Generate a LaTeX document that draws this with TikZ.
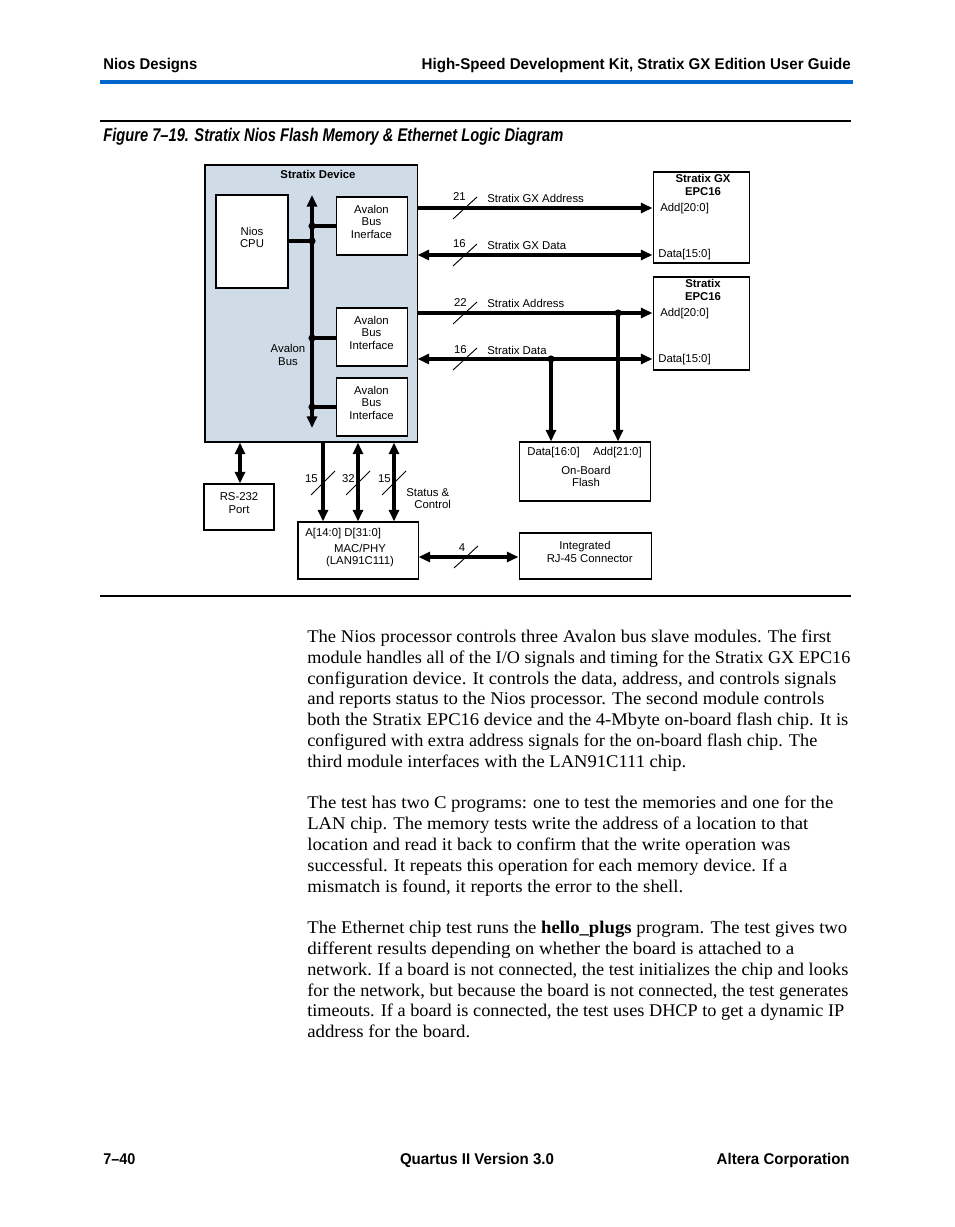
\documentclass[tikz,border=0pt]{standalone}
\usepackage{fontspec}
\setmainfont{Liberation Serif}
\setsansfont{Liberation Sans}
\usetikzlibrary{arrows.meta,fit}
\newdimen\unitpx \unitpx=0.642857pt
\newcommand\fitw[2]{\resizebox{#1\unitpx}{\height}{#2}}
\definecolor{sdfill}{RGB}{207,220,231}
\definecolor{hdrblue}{RGB}{0,102,204}
\tikzset{
  box/.style={draw, line width=0.65pt, fill=white, inner sep=0pt, font=\sffamily\fontsize{7.3}{8.2}\selectfont, align=center},
  sdbox/.style={draw, line width=0.65pt, fill=sdfill, inner sep=0pt},
  lbl/.style={font=\sffamily\fontsize{7.3}{8.2}\selectfont, inner sep=0pt},
  bus/.style={line width=2.3pt},
  tick/.style={line width=0.6pt},
  hdr/.style={font=\sffamily\bfseries\fontsize{10}{11}\selectfont, inner sep=0pt, anchor=base west},
  bodyline/.style={font=\fontsize{11.5}{13}\selectfont, inner sep=0pt, anchor=base west},
  dot/.style={fill=black}
}
\begin{document}
\begin{tikzpicture}[x=0.642857pt, y=-0.642857pt, >={Triangle[length=7.5pt,width=6.4pt]}]
\useasboundingbox (0,0) rectangle (954,1227);
\fill[white] (0,0) rectangle (954,1227);

% ---------- header ----------
\node[hdr] (h1) at (103,70) {\fitw{94}{Nios Designs}};
\node[hdr, anchor=base east] (h2) at (851,70) {\fitw{429}{High-Speed Development Kit, Stratix GX Edition User Guide}};
\fill[hdrblue] (100,80.5) rectangle (853,84.5);
\draw[line width=0.7pt] (100,121) -- (851,121);
\node[inner sep=0pt, anchor=base west, font=\sffamily\bfseries\itshape\fontsize{11.8}{13}\selectfont] (cap) at (103,142)
  {\fitw{460}{Figure 7--19. Stratix Nios Flash Memory \& Ethernet Logic Diagram}};

% ---------- Stratix device ----------
\node[sdbox, fit={(205,165)(417,442)}] (sd) {};
\node[lbl, font=\sffamily\bfseries\fontsize{7.3}{8.2}\selectfont] (sdl) at (318,174) {Stratix Device};
\node[box, fit={(216,195)(288,288)}] (cpu) {Nios\\CPU};
\node[box, fit={(336,197)(407,255)}] (abi1) {Avalon\\Bus\\Inerface};
\node[box, fit={(336,308)(407,366)}] (abi2) {Avalon\\Bus\\Interface};
\node[box, fit={(336,378)(407,436)}] (abi3) {Avalon\\Bus\\Interface};
\node[lbl, align=center] (avb) at (288,355) {Avalon\\Bus};

\coordinate (bt) at (312,195);
\coordinate (bb) at (312,428);
\draw[bus,<->] (bt) -- (bb);
\coordinate (d1) at (312,226);
\coordinate (d0) at (312,241);
\coordinate (d2) at (312,338);
\coordinate (d3) at (312,407);
\draw[bus] (d1) -- (d1 -| abi1.west);
\draw[bus] (cpu.east |- d0) -- (d0);
\draw[bus] (d2) -- (d2 -| abi2.west);
\draw[bus] (d3) -- (d3 -| abi3.west);
\foreach \d in {d0,d1,d2,d3} \fill[dot] (\d) circle (2.3pt);

% ---------- EPC16 devices ----------
\node[box, fit={(653,172)(749,263)}] (gx) {};
\node[lbl, align=center, font=\sffamily\bfseries\fontsize{7.3}{7.8}\selectfont] (gxt) at (703,185) {Stratix GX\\EPC16};
\node[lbl, anchor=base west] (gxa) at (660,211.5) {Add[20:0]};
\node[lbl, anchor=base west] (gxd) at (658,257.5) {Data[15:0]};

\node[box, fit={(653,277)(749,370)}] (ep) {};
\node[lbl, align=center, font=\sffamily\bfseries\fontsize{7.3}{7.8}\selectfont] (ept) at (703,290) {Stratix\\EPC16};
\node[lbl, anchor=base west] (epa) at (660,316.5) {Add[20:0]};
\node[lbl, anchor=base west] (epd) at (658,362.5) {Data[15:0]};

% GX address / data
\coordinate (yA) at (0,208);
\coordinate (yB) at (0,255);
\coordinate (yC) at (0,313);
\coordinate (yD) at (0,359);
\draw[bus,->] (sd.east |- yA) -- (gx.west |- yA);
\draw[bus,<->] (sd.east |- yB) -- (gx.west |- yB);
\draw[tick] (465,208) ++(-12,11) -- ++(24,-22);
\draw[tick] (465,255) ++(-12,11) -- ++(24,-22);
\node[lbl, anchor=base east] (n21) at (466,201) {21};
\node[lbl, anchor=base west] (lgxa) at (487,203) {Stratix GX Address};
\node[lbl, anchor=base east] (n16a) at (466,248) {16};
\node[lbl, anchor=base west] (lgxd) at (487,250) {Stratix GX Data};

% Stratix address / data
\draw[bus,->] (sd.east |- yC) -- (ep.west |- yC);
\draw[bus,<->] (sd.east |- yD) -- (ep.west |- yD);
\draw[tick] (465,313) ++(-12,11) -- ++(24,-22);
\draw[tick] (465,359) ++(-12,11) -- ++(24,-22);
\node[lbl, anchor=base east] (n22) at (467,306) {22};
\node[lbl, anchor=base west] (lepa) at (487,308) {Stratix Address};
\node[lbl, anchor=base east] (n16b) at (467,353) {16};
\node[lbl, anchor=base west] (lepd) at (487,354) {Stratix Data};

% ---------- flash ----------
\node[box, fit={(519,442)(650,501)}] (fl) {};
\node[lbl, anchor=base west] (fld) at (527,455.5) {Data[16:0]};
\node[lbl, anchor=base east] (fla) at (642,455.5) {Add[21:0]};
\node[lbl, align=center] (flt) at (586,476.5) {On-Board\\Flash};
\coordinate (fa) at (618,313);
\coordinate (fd) at (551,359);
\draw[bus,->] (fa) -- (fa |- fl.north);
\draw[bus,->] (fd) -- (fd |- fl.north);
\fill[dot] (fa) circle (2.3pt);
\fill[dot] (fd) circle (2.3pt);

% ---------- RS-232 ----------
\node[box, fit={(204,484)(274,530)}] (rs) {RS-232\\Port};
\coordinate (xr) at (240,0);
\draw[bus,<->] (xr |- sd.south) -- (xr |- rs.north);

% ---------- MAC/PHY ----------
\node[box, fit={(298,522)(418,579)}] (mac) {};
\node[lbl, anchor=base west] (macp) at (305,536.5) {A[14:0] D[31:0]};
\node[lbl, align=center] (mact) at (360,555.5) {MAC/PHY\\(LAN91C111)};
\coordinate (x1) at (323,0);
\coordinate (x2) at (358,0);
\coordinate (x3) at (394,0);
\draw[bus,->] (x1 |- sd.south) -- (x1 |- mac.north);
\draw[bus,<->] (x2 |- sd.south) -- (x2 |- mac.north);
\draw[bus,<->] (x3 |- sd.south) -- (x3 |- mac.north);
\draw[tick] (323,483) ++(-12,12) -- ++(24,-24);
\draw[tick] (358,483) ++(-12,12) -- ++(24,-24);
\draw[tick] (394,483) ++(-12,12) -- ++(24,-24);
\node[lbl, anchor=base east] (n15a) at (318,482.5) {15};
\node[lbl, anchor=base east] (n32) at (355,482.5) {32};
\node[lbl, anchor=base east] (n15b) at (391,482.5) {15};
\node[lbl, anchor=base west] (st1) at (406,496.5) {Status \&};
\node[lbl, anchor=base west] (st2) at (414,508.5) {Control};

% ---------- RJ-45 ----------
\node[box, fit={(519,533)(651,579)}] (rj) {Integrated\\\hspace{6pt}RJ-45 Connector};
\coordinate (yE) at (0,557);
\draw[bus,<->] (mac.east |- yE) -- (rj.west |- yE);
\draw[tick] (466,557) ++(-12,11) -- ++(24,-22);
\node[lbl, anchor=base] (n4) at (462,551) {4};

\draw[line width=0.7pt] (100,596) -- (851,596);

% ---------- body text ----------
\node[bodyline] (p1a) at (307,642.5)   {\fitw{524}{The Nios processor controls three Avalon bus slave modules. The first}};
\node[bodyline] (p1b) at (307,663.3) {\fitw{543}{module handles all of the I/O signals and timing for the Stratix GX EPC16}};
\node[bodyline] (p1c) at (307,684.1) {\fitw{529}{configuration device. It controls the data, address, and controls signals}};
\node[bodyline] (p1d) at (307,704.9) {\fitw{517}{and reports status to the Nios processor. The second module controls}};
\node[bodyline] (p1e) at (307,725.7) {\fitw{541}{both the Stratix EPC16 device and the 4-Mbyte on-board flash chip. It is}};
\node[bodyline] (p1f) at (307,746.5)   {\fitw{510}{configured with extra address signals for the on-board flash chip. The}};
\node[bodyline] (p1g) at (307,767.3) {\fitw{379}{third module interfaces with the LAN91C111 chip.}};

\node[bodyline] (p2a) at (307,808.9) {\fitw{526}{The test has two C programs: one to test the memories and one for the}};
\node[bodyline] (p2b) at (307,829.7) {\fitw{501}{LAN chip. The memory tests write the address of a location to that}};
\node[bodyline] (p2c) at (307,850.5)   {\fitw{483}{location and read it back to confirm that the write operation was}};
\node[bodyline] (p2d) at (307,871.3) {\fitw{480}{successful. It repeats this operation for each memory device. If a}};
\node[bodyline] (p2e) at (307,892.1) {\fitw{376}{mismatch is found, it reports the error to the shell.}};

\node[bodyline] (p3a) at (307,933.7) {\fitw{540}{The Ethernet chip test runs the \textbf{hello\_plugs} program. The test gives two}};
\node[bodyline] (p3b) at (307,954.5)   {\fitw{487}{different results depending on whether the board is attached to a}};
\node[bodyline] (p3c) at (307,975.3) {\fitw{541}{network. If a board is not connected, the test initializes the chip and looks}};
\node[bodyline] (p3d) at (307,996.1) {\fitw{541}{for the network, but because the board is not connected, the test generates}};
\node[bodyline] (p3e) at (307,1016.9){\fitw{537}{timeouts. If a board is connected, the test uses DHCP to get a dynamic IP}};
\node[bodyline] (p3f) at (307,1037.7){\fitw{163}{address for the board.}};

% ---------- footer ----------
\node[hdr] (f1) at (103,1164) {\fitw{32}{7--40}};
\node[hdr, anchor=base] (f2) at (477,1164) {\fitw{154}{Quartus II Version 3.0}};
\node[hdr, anchor=base east] (f3) at (850,1164) {\fitw{133}{Altera Corporation}};
\end{tikzpicture}
\end{document}
